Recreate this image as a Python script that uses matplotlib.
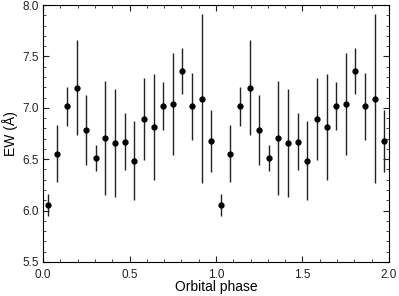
import numpy as np
import matplotlib.pyplot as plt
from matplotlib.ticker import MultipleLocator

# equivalent width per phase bin (one orbit, plotted twice)
ew = [6.055, 6.554, 7.014, 7.196, 6.787, 6.515, 6.71, 6.658, 6.671,
      6.486, 6.888, 6.813, 7.018, 7.037, 7.361, 7.014, 7.089, 6.677]
ew_err = [0.105, 0.275, 0.19, 0.46, 0.34, 0.127, 0.555, 0.525, 0.28,
          0.385, 0.40, 0.52, 0.23, 0.50, 0.225, 0.325, 0.82, 0.30]

n_bins = len(ew)
phase = (np.arange(n_bins) + 0.5) / n_bins
phase2 = np.concatenate([phase, phase + 1])
ew2 = np.concatenate([ew, ew])
err2 = np.concatenate([ew_err, ew_err])

plt.rcParams['font.family'] = ['Liberation Sans', 'DejaVu Sans']

fig = plt.figure(figsize=(3.99, 2.96), dpi=100)
ax = fig.add_axes([43 / 399, 1 - 262 / 296, 346 / 399, 257 / 296])

ax.errorbar(phase2, ew2, yerr=err2, fmt='o', color='black', ecolor='#222222',
            markersize=3.5, elinewidth=1.0, capsize=0)

ax.set_xlim(0, 2)
ax.set_ylim(5.5, 8.0)
ax.xaxis.set_major_locator(MultipleLocator(0.5))
ax.xaxis.set_minor_locator(MultipleLocator(0.1))
ax.yaxis.set_major_locator(MultipleLocator(0.5))
ax.yaxis.set_minor_locator(MultipleLocator(0.1))
ax.tick_params(which='both', direction='in', top=True, right=True,
               labelsize=8.5, colors='#222222')
ax.tick_params(axis='x', which='major', pad=5)
ax.tick_params(axis='y', which='major', pad=3)
ax.tick_params(which='major', length=4, width=0.8)
ax.tick_params(which='minor', length=2, width=0.6)
for sp in ax.spines.values():
    sp.set_linewidth(0.8)

ax.set_xlabel('Orbital phase', fontsize=10, labelpad=-1)
ax.set_ylabel('EW (Å)', fontsize=10, labelpad=3)

fig.savefig('out.png', dpi=100)
